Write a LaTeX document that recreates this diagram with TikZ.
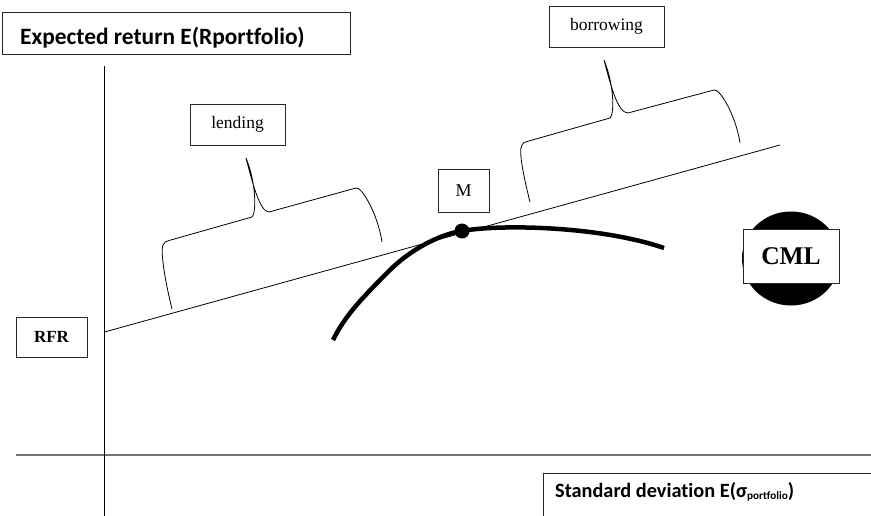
\documentclass[tikz,border=0pt]{standalone}
\usepackage{fontspec}
\setmainfont{Liberation Serif}
\newfontfamily\calib[RawFeature=-liga]{Carlito}
\begin{document}
\begin{tikzpicture}[x=1pt,y=-1pt,
  box/.style={draw=black!85,line width=0.9pt,fill=white},
  axlabel/.style={font=\calib\bfseries,anchor=base west,inner sep=0pt},
  serlabel/.style={font=\fontsize{17.5}{20}\selectfont,inner sep=0pt},
  brace/.style={line width=0.8pt},
  thin/.style={line width=0.8pt}]
\useasboundingbox (0,0) rectangle (871,516);
% axes
\coordinate (ytop) at (104.5,66);
\coordinate (ybot) at (104.5,516);
\coordinate (xl) at (16,455);
\coordinate (xr) at (871,455);
\draw[line width=1.4pt,black!55] (xl) -- (xr);
\draw[line width=1.1pt] (ytop) -- (ybot);
% title box
\draw[box] (2,12) rectangle (350,54);
\node[axlabel] (ylab) at (20,45) {\fontsize{23.4}{27}\selectfont Expected return E(Rportfolio)};
% bottom box
\draw[box] (543,473) rectangle (880,530);
\node[axlabel] (xlab) at (555,497) {\fontsize{20.3}{24}\selectfont Standard deviation E(σ\raisebox{-0.3ex}{\fontsize{11.2}{13}\selectfont portfolio})};
% RFR
\node[box,minimum width=71pt,minimum height=40pt,inner sep=0pt,font=\bfseries\fontsize{17}{20}\selectfont] (rfr) at (51.5,337) {RFR};
% CML line
\coordinate (c0) at (104.5,332);
\coordinate (c1) at (780,145);
\draw[thin] (c0) -- (c1);
% lending brace
\draw[brace] (172,309) .. controls (166,285) and (160,252) .. (163,245)
  .. controls (164,242) and (166,241.5) .. (169,240.5) -- (252,217)
  .. controls (256,214) and (257,185) .. (246,158)
  .. controls (253,185) and (260,212) .. (269,212) -- (356,188)
  .. controls (362,186.5) and (378,215) .. (382,242);
% borrowing brace
\draw[brace] (530,202) .. controls (524,178) and (518,150) .. (522,145)
  .. controls (523,142.5) and (525,142) .. (527,141.5) -- (610,118)
  .. controls (614,115) and (615,87) .. (604,60)
  .. controls (611,87) and (618,113) .. (628,113) -- (714,90)
  .. controls (720,88.5) and (736,116) .. (740,143);
% labels
\node[box,minimum width=95pt,minimum height=41pt,inner sep=0pt,serlabel] (lend) at (237.5,124.5) {lending};
\node[box,minimum width=115pt,minimum height=41pt,inner sep=0pt,serlabel] (borr) at (606.5,26.5) {borrowing};
\node[box,minimum width=51pt,minimum height=43pt,inner sep=0pt,font=\fontsize{18}{21}\selectfont] (m) at (463.5,190.5) {M};
% efficient frontier
\draw[line width=4.5pt] (333,340) .. controls (345,316) and (360,300) .. (390,270)
  .. controls (410,250) and (440,234) .. (462,231)
  .. controls (500,224) and (600,226) .. (664,248);
\fill (462,231) circle (7.5pt);
% CML badge
\fill (791,258.5) ellipse (49pt and 47pt);
\node[box,minimum width=96pt,minimum height=54pt,inner sep=0pt,font=\bfseries\fontsize{25.5}{29}\selectfont] (cml) at (791,256) {CML};
\end{tikzpicture}
\end{document}
